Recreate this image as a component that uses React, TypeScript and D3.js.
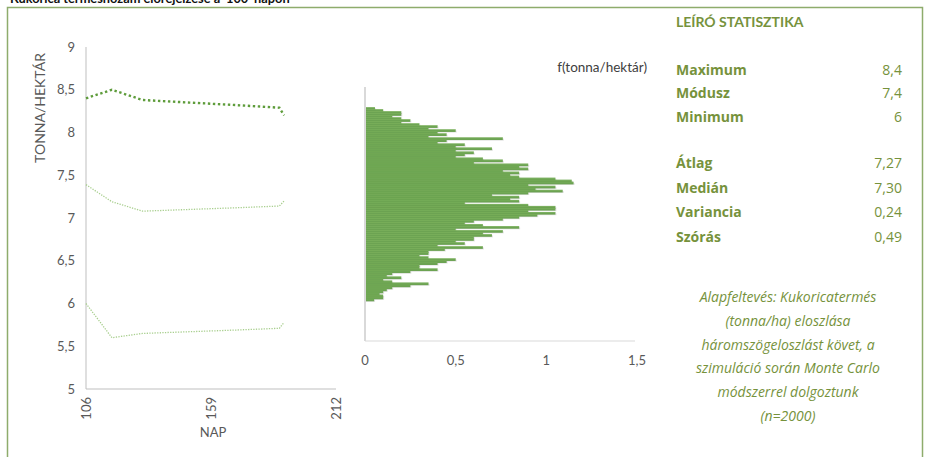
import React from "react";
import * as d3 from "d3";

// ---- Data ----
const titleText = "Kukorica terméshozam előrejelzése a '100' napon";

// Left chart: forecast bands over days (NAP)
const days = [106, 117, 130, 150, 170, 188, 190];
const maxSeries = [8.4, 8.5, 8.38, 8.35, 8.32, 8.29, 8.2];
const meanSeries = [7.39, 7.19, 7.08, 7.1, 7.12, 7.14, 7.2];
const minSeries = [6.0, 5.6, 5.65, 5.67, 5.69, 5.71, 5.78];
const yTicksLeft = [5, 5.5, 6, 6.5, 7, 7.5, 8, 8.5, 9];
const xTicksLeft = [106, 159, 212];

// Histogram: density per 0.025 t/ha bin, listed from the top bin (8.375) down to the bottom bin (6.000)
const densityFromTop = [
  0.055, 0.1, 0.2, 0.2, 0.15, 0.2, 0.25, 0.2, 0.3, 0.4,
  0.35, 0.5, 0.4, 0.45, 0.35, 0.76, 0.45, 0.4, 0.55, 0.5,
  0.7, 0.5, 0.6, 0.55, 0.5, 0.65, 0.76, 0.6, 0.9, 0.85,
  0.9, 0.76, 0.85, 0.8, 0.85, 1.05, 1.14, 1.15, 0.9, 1.05,
  0.94, 1.09, 0.9, 0.7, 0.85, 0.8, 0.85, 0.55, 0.9, 1.05,
  1.05, 0.9, 1.05, 0.95, 0.85, 0.76, 0.6, 0.55, 0.65, 0.85,
  0.5, 0.76, 0.65, 0.7, 0.6, 0.6, 0.5, 0.55, 0.4, 0.65,
  0.44, 0.35, 0.35, 0.3, 0.35, 0.5, 0.45, 0.4, 0.3, 0.3,
  0.4, 0.25, 0.15, 0.12, 0.2, 0.1, 0.15, 0.35, 0.25, 0.15,
  0.12, 0.1, 0.08, 0.1, 0.1, 0.05,
];
const binWidth = 0.025;
const binTop = 8.4;
const xTicksHist = [0, 0.5, 1, 1.5];

// Statistics panel
const statLabels1 = ["Maximum", "Módusz", "Minimum"];
const statValues1 = ["8,4", "7,4", "6"];
const statLabels2 = ["Átlag", "Medián", "Variancia", "Szórás"];
const statValues2 = ["7,27", "7,30", "0,24", "0,49"];
const noteLines = [
  "Alapfeltevés: Kukoricatermés",
  "(tonna/ha) eloszlása",
  "háromszögeloszlást követ, a",
  "szimuláció során Monte Carlo",
  "módszerrel dolgoztunk",
  "(n=2000)",
];

const FONT = "Lato, 'Open Sans', sans-serif";
const FONT2 = "'Open Sans', Lato, sans-serif";
const OLIVE = "#76923c";
const fmt = (v: number) => String(v).replace(".", ",");

export default function App() {
  const W = 925;
  const H = 457;

  // left chart scales
  const xL = d3.scaleLinear().domain([106, 212]).range([86, 336]);
  const yL = d3.scaleLinear().domain([5, 9]).range([389, 47]);
  const line = (vals: number[]) =>
    d3.line<number>().x((_, i) => xL(days[i])).y((d) => yL(d))(vals) || "";

  // histogram scales
  const xH = d3.scaleLinear().domain([0, 1.5]).range([365, 637]);
  const yH = d3.scaleLinear().domain([5.5, 8.65]).range([341, 87]);

  return (
    <div style={{ position: "fixed", left: 0, top: 0, width: W, height: H, background: "#fff" }}>
      <svg width={W} height={H} style={{ display: "block" }} fontFamily={FONT}>
        <rect x={0} y={0} width={W} height={H} fill="#fff" />
        {/* frame */}
        <rect x={7.5} y={7.5} width={915} height={470} fill="none" stroke="#8eac6c" strokeWidth={1.5} />
        {/* title (partly above the visible area, as in the original) */}
        <text x={10} y={3} fontSize={12.8} fontWeight="bold" fill="#111">
          {titleText}
        </text>

        {/* ---- Left chart ---- */}
        <line x1={86} x2={86} y1={yL(9)} y2={yL(5)} stroke="#bfbfbf" strokeWidth={1} />
        <line x1={86} x2={336} y1={yL(5)} y2={yL(5)} stroke="#bfbfbf" strokeWidth={1} />
        {yTicksLeft.map((t) => (
          <text key={t} x={75} y={yL(t)} dy="0.35em" textAnchor="end" fontSize={13} fill="#595959">
            {fmt(t)}
          </text>
        ))}
        {xTicksLeft.map((t) => (
          <text
            key={t}
            transform={`translate(${xL(t)},${397}) rotate(-90)`}
            dy="0.35em"
            textAnchor="end"
            fontSize={13}
            fill="#595959"
          >
            {t}
          </text>
        ))}
        <text x={213} y={437} textAnchor="middle" fontSize={13} fill="#595959">
          NAP
        </text>
        <text
          transform={`translate(40,108) rotate(-90)`}
          dy="0.35em"
          textAnchor="middle"
          fontSize={14}
          fill="#595959"
        >
          TONNA/HEKTÁR
        </text>
        <path d={line(minSeries)} fill="none" stroke="#a9cf8f" strokeWidth={1.3} strokeDasharray="1.3 1.3" />
        <path d={line(meanSeries)} fill="none" stroke="#a9cf8f" strokeWidth={1.3} strokeDasharray="1.3 1.3" />
        <path d={line(maxSeries)} fill="none" stroke="#5e9c3b" strokeWidth={2.4} strokeDasharray="2.4 2.6" />

        {/* ---- Histogram ---- */}
        <text x={647} y={72} textAnchor="end" fontSize={13.5} fill="#404040">
          f(tonna/hektár)
        </text>
        {densityFromTop.map((d, i) => {
          const top = binTop - i * binWidth;
          const y0 = yH(top);
          const h = yH(top - binWidth) - y0;
          return (
            <g key={i}>
              <rect x={xH(0) + 1} y={y0 + 1.2} width={Math.max(0, xH(d) - xH(0))} height={h} fill="#000" opacity={0.12} />
              <rect x={xH(0)} y={y0} width={Math.max(0, xH(d) - xH(0))} height={h + 0.6} fill="#5b9a3e" opacity={0.88} />
              <rect x={xH(0)} y={y0} width={Math.max(0, xH(d) - xH(0))} height={0.7} fill="#8fc070" opacity={0.6} />
            </g>
          );
        })}
        <line x1={365} x2={365} y1={87} y2={341} stroke="#d9d9d9" strokeWidth={2} />
        <line x1={365} x2={635} y1={341} y2={341} stroke="#d9d9d9" strokeWidth={1} />
        {xTicksHist.map((t) => (
          <text key={t} x={xH(t)} y={360} dy="0.35em" textAnchor="middle" fontSize={13} fill="#595959">
            {fmt(t)}
          </text>
        ))}

        {/* ---- Statistics panel ---- */}
        <text x={676} y={27} fontSize={14} fontWeight="bold" fill={OLIVE}>
          LEÍRÓ STATISZTIKA
        </text>
        {statLabels1.map((l, i) => (
          <g key={l}>
            <text x={676} y={70 + i * 23.5} dy="0.35em" fontFamily={FONT2} fontSize={14} fontWeight="bold" fill={OLIVE}>
              {l}
            </text>
            <text x={902} y={70 + i * 23.5} dy="0.35em" textAnchor="end" fontFamily={FONT2} fontSize={14} fill={OLIVE}>
              {statValues1[i]}
            </text>
          </g>
        ))}
        {statLabels2.map((l, i) => (
          <g key={l}>
            <text x={676} y={163 + i * 24.7} dy="0.35em" fontFamily={FONT2} fontSize={14} fontWeight="bold" fill={OLIVE}>
              {l}
            </text>
            <text x={902} y={163 + i * 24.7} dy="0.35em" textAnchor="end" fontFamily={FONT2} fontSize={14} fill={OLIVE}>
              {statValues2[i]}
            </text>
          </g>
        ))}
        {noteLines.map((l, i) => (
          <text
            key={i}
            x={788}
            y={297 + i * 23.8}
            dy="0.35em"
            textAnchor="middle"
            fontFamily={FONT2}
            fontSize={14}
            fontStyle="italic"
            fill={OLIVE}
          >
            {l}
          </text>
        ))}
      </svg>
    </div>
  );
}
